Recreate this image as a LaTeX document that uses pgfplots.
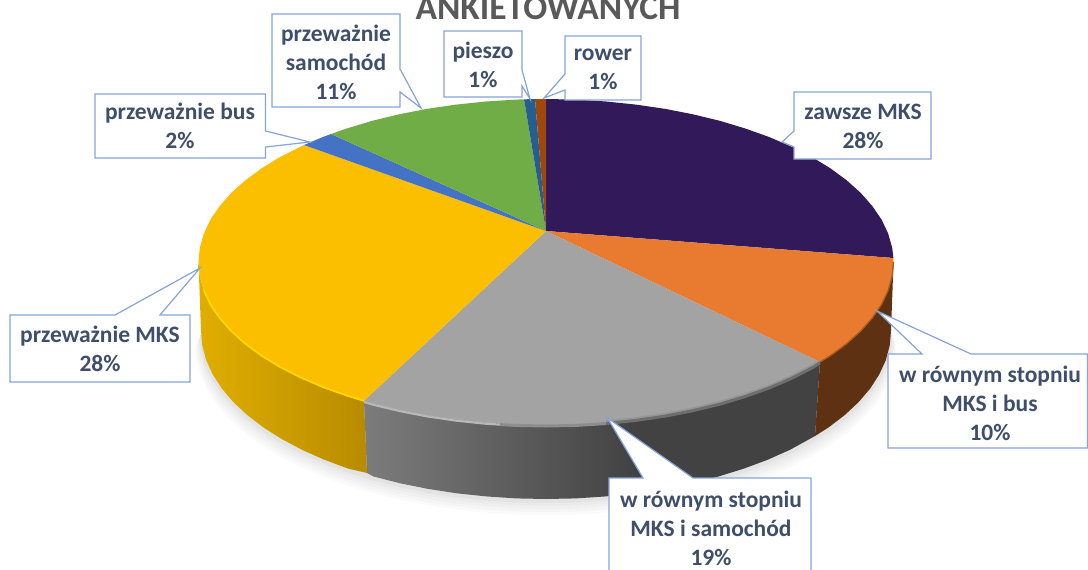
\documentclass[border=0pt]{standalone}
\usepackage{pgfplots}
\usepackage{pgfplotstable}
\pgfplotsset{compat=1.18}
\usepackage{fontspec}
\setmainfont{Carlito}
\definecolor{cPurple}{HTML}{32195A}
\definecolor{cOrange}{HTML}{E97B30}
\definecolor{cGray}{HTML}{A3A3A3}
\definecolor{cYellow}{HTML}{FBBF00}
\definecolor{cBlue}{HTML}{4472C4}
\definecolor{cGreen}{HTML}{70AD47}
\definecolor{cNavy}{HTML}{255E91}
\definecolor{cBrown}{HTML}{9E480E}
\definecolor{cBox}{HTML}{86A4D6}
\definecolor{cText}{HTML}{3F4F69}
\definecolor{cTitle}{HTML}{595959}
\definecolor{sYa}{HTML}{E0AE00}
\definecolor{sYb}{HTML}{B88B00}
\definecolor{sGa}{HTML}{7C7C7C}
\definecolor{sGc}{HTML}{424242}
\definecolor{sO}{HTML}{5E3112}
\definecolor{rY}{HTML}{FFD800}
\definecolor{rGa}{HTML}{B8B8B8}
\definecolor{rGm}{HTML}{8E8E8E}
\definecolor{rGb}{HTML}{6E6E6E}
\definecolor{rO}{HTML}{A85C1E}
% lower rim of the pie, in image pixels
\pgfplotstableread{
x y
201 331
202.3 345.6
206.2 360.2
212.8 374.5
221.8 388.5
233.3 402
247.2 415
263.4 427.4
281.7 439
302 449.8
324.2 459.7
348.1 468.6
373.5 476.5
400.2 483.3
428 488.9
456.7 493.3
486.1 496.4
515.9 498.4
546 499
576.1 498.4
605.9 496.4
635.3 493.3
664 488.9
691.8 483.3
718.5 476.5
743.9 468.6
767.8 459.7
790 449.8
810.3 439
828.6 427.4
844.8 415
858.7 402
870.2 388.5
879.2 374.5
885.8 360.2
889.7 345.6
891 331
}\rimlow
\newcommand{\lab}[3]{\node[align=center,text=cText,font=\fontsize{23.5bp}{29bp}\selectfont\bfseries,inner sep=0pt] at (axis cs:#1,#2) {#3};}
\begin{document}
\begin{tikzpicture}
\path[use as bounding box,clip] (0,0) rectangle (1088bp,570bp);
\begin{axis}[at={(0,0)},anchor=south west,scale only axis,width=1088bp,height=570bp,
  xmin=0,xmax=1088,ymin=0,ymax=570,y dir=reverse,axis lines=none,clip=false]
% shadow
\addplot[fill=black!2,draw=none] table[x expr={546+(\thisrow{x}-546)*1.016},y expr={\thisrow{y}+16}] {\rimlow} --cycle;
\addplot[fill=black!4,draw=none] table[x expr={546+(\thisrow{x}-546)*1.013},y expr={\thisrow{y}+13}] {\rimlow} --cycle;
\addplot[fill=black!6,draw=none] table[x expr={546+(\thisrow{x}-546)*1.010},y expr={\thisrow{y}+10}] {\rimlow} --cycle;
\addplot[fill=black!8,draw=none] table[x expr={546+(\thisrow{x}-546)*1.007},y expr={\thisrow{y}+7}] {\rimlow} --cycle;
\addplot[fill=black!11,draw=none] table[x expr={546+(\thisrow{x}-546)*1.004},y expr={\thisrow{y}+4}] {\rimlow} --cycle;
% sides
\addplot[draw=none,left color=sYa,right color=sYb] coordinates {(198.5,262)(199.8,276.2)(203.8,290.3)(210.3,304.2)(219.5,317.7)(231.1,330.9)(245.1,343.5)(261.3,355.5)(279.8,366.8)(300.3,377.3)(322.6,386.9)(346.7,395.5)(364,400.8)(367,473)(348.1,468.6)(324.2,459.7)(302,449.8)(281.7,439)(263.4,427.4)(247.2,415)(233.3,402)(221.8,388.5)(212.8,374.5)(206.2,360.2)(202.3,345.6)(201,331)} --cycle;
\addplot[draw=none,left color=sGa,right color=sGc] coordinates {(364,400.8)(372.2,403.2)(399.1,409.7)(427.2,415.2)(456.1,419.4)(485.7,422.5)(515.7,424.4)(546,425)(576.3,424.4)(606.3,422.5)(636,419.4)(636,493.3)(605.9,496.4)(576.1,498.4)(546,499)(515.9,498.4)(486.1,496.4)(456.7,493.3)(428,488.9)(400.2,483.3)(373.5,476.5)(367,473)} --cycle;
\addplot[draw=none,fill=sGc] coordinates {(635.5,419.4)(664.8,415.2)(692.9,409.7)(719.8,403.2)(745.3,395.5)(769.4,386.9)(791.7,377.3)(812.2,366.8)(820,362)(815,436)(790,449.8)(767.8,459.7)(743.9,468.6)(718.5,476.5)(691.8,483.3)(664,488.9)(635.5,493.3)} --cycle;
\addplot[fill=sO,draw=none] coordinates {(893.5,262)(892.2,276.2)(888.2,290.3)(881.7,304.2)(872.5,317.7)(860.9,330.9)(846.9,343.5)(830.7,355.5)(820,362)(815,436)(828.6,427.4)(844.8,415)(858.7,402)(870.2,388.5)(879.2,374.5)(885.8,360.2)(889.7,345.6)(891,331)} --cycle;
% top face
\addplot[fill=cPurple,draw=none] coordinates {(546,231)(546,99)(576.3,99.6)(606.3,101.5)(635.9,104.6)(664.8,108.8)(692.9,114.3)(719.8,120.8)(745.3,128.5)(769.4,137.1)(791.7,146.7)(812.2,157.2)(830.7,168.5)(846.9,180.5)(860.9,193.1)(872.5,206.3)(881.7,219.8)(888.2,233.7)(892.2,247.8)(893.4,258)} --cycle;
\addplot[fill=cOrange,draw=none] coordinates {(546,231)(893.4,258)(893.5,262)(892.2,276.2)(888.2,290.3)(881.7,304.2)(872.5,317.7)(860.9,330.9)(846.9,343.5)(830.7,355.5)(820,362)} --cycle;
\addplot[fill=cGray,draw=none] coordinates {(546,231)(820,362)(812.2,366.8)(791.7,377.3)(769.4,386.9)(745.3,395.5)(719.8,403.2)(692.9,409.7)(664.8,415.2)(635.9,419.4)(606.3,422.5)(576.3,424.4)(546,425)(515.7,424.4)(485.7,422.5)(456.1,419.4)(427.2,415.2)(399.1,409.7)(372.2,403.2)(364,400.8)} --cycle;
\addplot[fill=cYellow,draw=none] coordinates {(546,231)(364,400.8)(346.7,395.5)(322.6,386.9)(300.3,377.3)(279.8,366.8)(261.3,355.5)(245.1,343.5)(231.1,330.9)(219.5,317.7)(210.3,304.2)(203.8,290.3)(199.8,276.2)(198.5,262)(199.8,247.8)(203.8,233.7)(210.3,219.8)(219.5,206.3)(231.1,193.1)(245.1,180.5)(261.3,168.5)(279.8,157.2)(304,145)} --cycle;
\addplot[fill=cBlue,draw=none] coordinates {(546,231)(304,145)(322.6,137.1)(331,134)} --cycle;
\addplot[fill=cGreen,draw=none] coordinates {(546,231)(331,134)(346.7,128.5)(372.2,120.8)(399.1,114.3)(427.2,108.8)(456.1,104.6)(485.7,101.5)(515.7,99.6)(524,99.3)} --cycle;
\addplot[fill=cNavy,draw=none] coordinates {(546,231)(524,99.3)(535,99.1)} --cycle;
\addplot[fill=cBrown,draw=none] coordinates {(546,231)(535,99.1)(546,99)} --cycle;
% bevel highlights on the rim
\addplot[draw=rY,line width=1.8bp] coordinates {(203.8,290.3)(210.3,304.2)(219.5,317.7)(231.1,330.9)(245.1,343.5)(261.3,355.5)(279.8,366.8)(300.3,377.3)(322.6,386.9)(346.7,395.5)(364,400.8)};
\addplot[draw=rGa,line width=2.2bp] coordinates {(364,402)(372.2,404.4)(399.1,410.9)(427.2,416.4)(456.1,420.6)(485.7,423.7)(500,424.6)};
\addplot[draw=rGm,line width=3bp] coordinates {(500,424.6)(515.7,425.4)(546,426)(576.3,425.4)(606.3,423.5)};
\addplot[draw=rGm,line width=2.5bp,opacity=.6] coordinates {(606.3,421.5)(635.9,418.4)(664.8,414.2)(692.9,408.7)(719.8,402.2)(745.3,394.5)(769.4,385.9)(791.7,376.3)(812.2,365.8)(820,361)};
\addplot[draw=rGb,line width=3bp] coordinates {(606.3,423.5)(635.9,420.4)(664.8,416.2)(692.9,410.7)(719.8,404.2)(745.3,396.5)(769.4,387.9)(791.7,378.3)(812.2,367.8)(820,363)};
\addplot[draw=rO,line width=1.3bp] coordinates {(893.5,262)(892.2,276.2)(888.2,290.3)(881.7,304.2)(872.5,317.7)(860.9,330.9)(846.9,343.5)(830.7,355.5)(820,362)};
% callouts
\addplot[fill=white,draw=cBox,line width=1.2bp] coordinates {(95,94)(265.5,94)(265.5,131)(310,142)(265.5,147)(265.5,158)(95,158)} --cycle;
\addplot[fill=white,draw=cBox,line width=1.2bp] coordinates {(272,14)(400,14)(400,69)(421,108)(400,92)(400,107)(272,107)} --cycle;
\addplot[fill=white,draw=cBox,line width=1.2bp] coordinates {(444,31)(522,31)(522,70)(530,99)(522,86)(522,97)(444,97)} --cycle;
\addplot[fill=white,draw=cBox,line width=1.2bp] coordinates {(565,36)(641,36)(641,100)(565,100)(565,90)(544,98)(565,74)} --cycle;
\addplot[fill=white,draw=cBox,line width=1.2bp] coordinates {(794,92)(931,92)(931,159)(794,159)(794,147)(782,142)(794,131)} --cycle;
\addplot[fill=white,draw=cBox,line width=1.2bp] coordinates {(10,315)(115,315)(200,268)(160,315)(190,315)(190,382)(10,382)} --cycle;
\addplot[fill=white,draw=cBox,line width=1.2bp] coordinates {(888,354)(922,354)(877,311)(971,354)(1087.5,354)(1087.5,448)(888,448)} --cycle;
\addplot[fill=white,draw=cBox,line width=1.2bp] coordinates {(609,478)(643,478)(607.5,418)(693,478)(811,478)(811,580)(609,580)} --cycle;
% labels
\lab{180}{126}{przeważnie bus\\2\%}
\lab{336}{62}{przeważnie\\samochód\\11\%}
\lab{483}{65}{pieszo\\1\%}
\lab{603}{69}{rower\\1\%}
\lab{863}{126}{zawsze MKS\\28\%}
\lab{100}{349}{przeważnie MKS\\28\%}
\lab{990}{403}{w równym stopniu\\MKS i bus\\10\%}
\lab{711}{528}{w równym stopniu\\MKS i samochód\\19\%}
\node[text=cTitle,font=\fontsize{35.5bp}{35.5bp}\selectfont\bfseries,inner sep=0pt,anchor=base] at (axis cs:548,19) {ANKIETOWANYCH};
\end{axis}
\end{tikzpicture}
\end{document}
